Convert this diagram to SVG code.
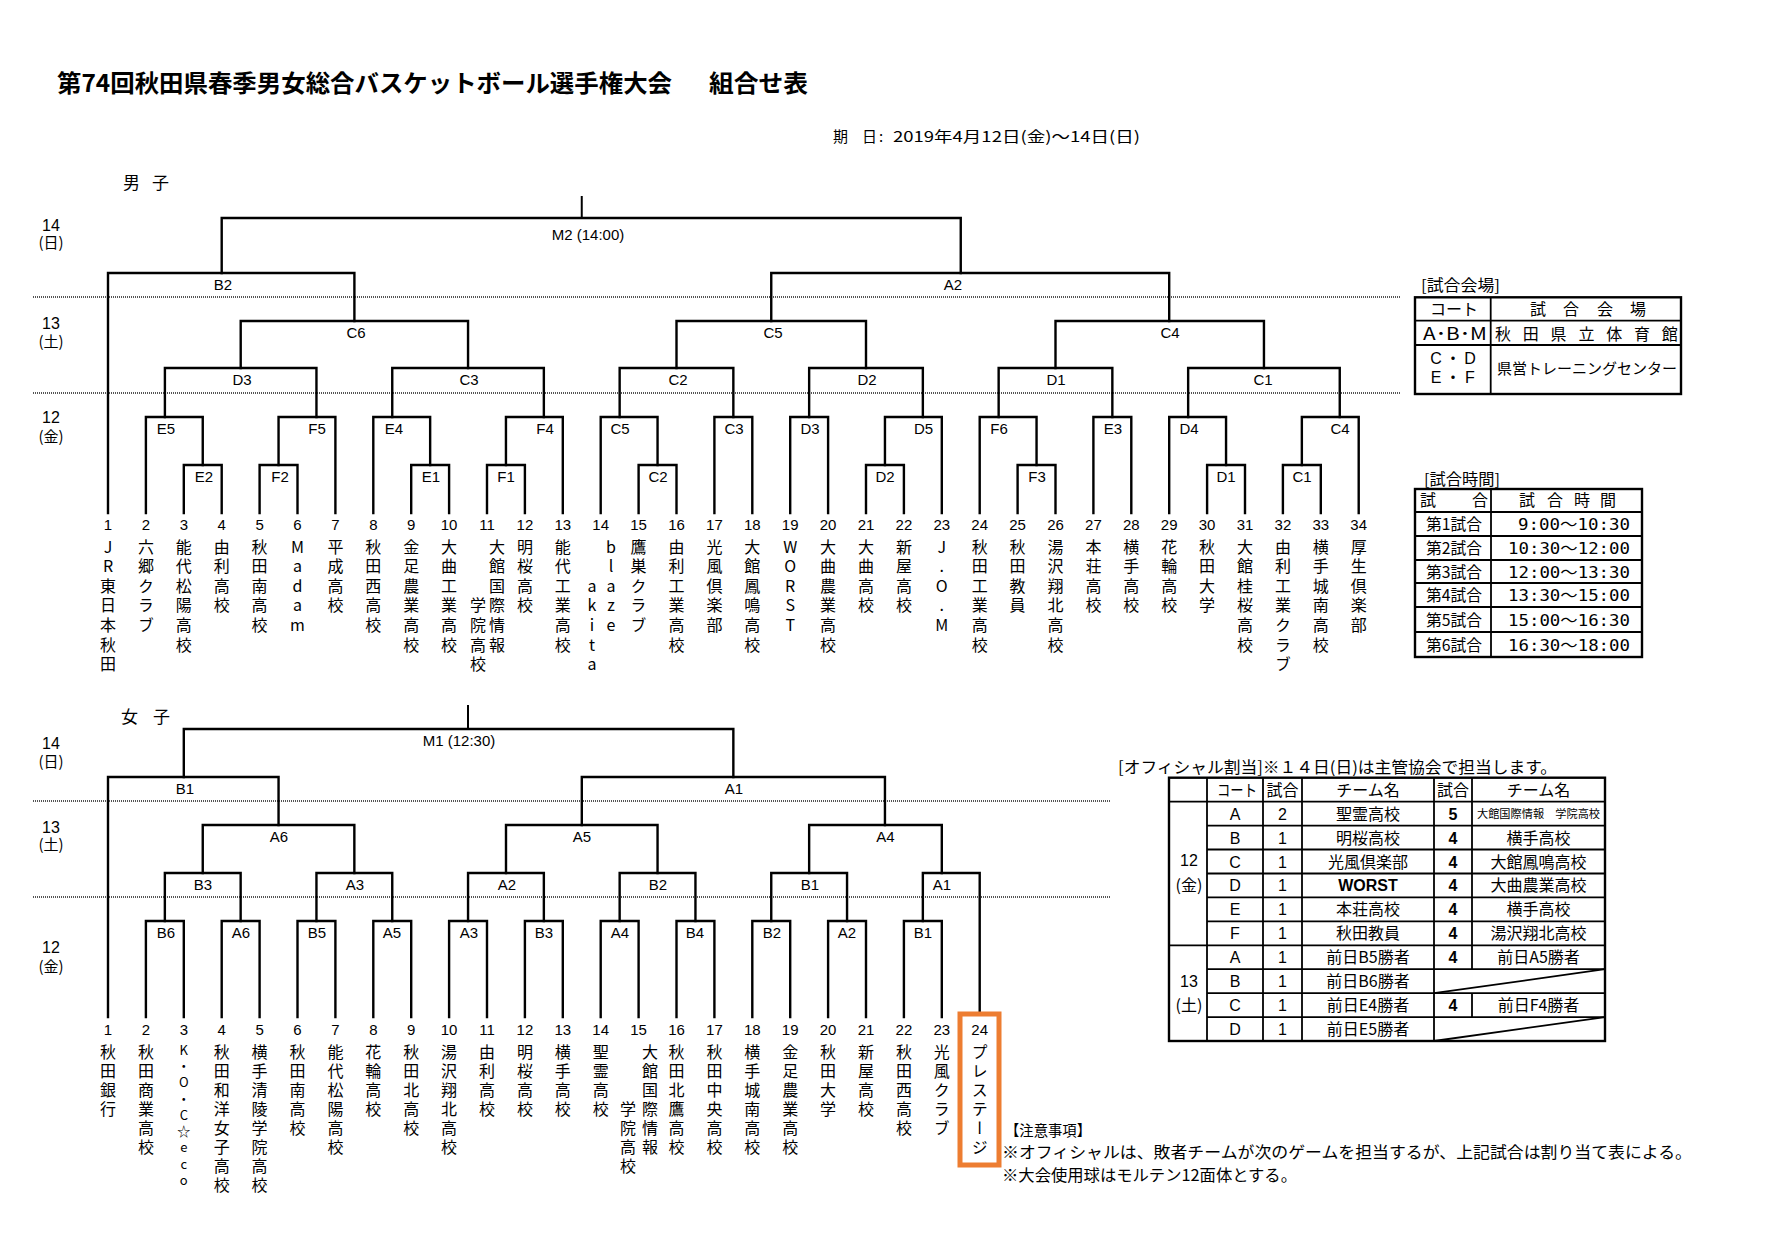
<svg xmlns="http://www.w3.org/2000/svg" width="1772" height="1253" viewBox="0 0 1772 1253">
<style>
text{font-family:"Noto Sans CJK JP","Noto Sans CJK SC",sans-serif;fill:#000}
.br{fill:none;stroke:#000;stroke-width:2.4;stroke-linecap:square}
.stem{fill:none;stroke:#000;stroke-width:2}
.dot{stroke:#555;stroke-width:2;stroke-dasharray:1 1}
.lab{font-family:"Liberation Sans","Noto Sans CJK JP",sans-serif;font-size:15px;text-anchor:middle}
.num{font-family:"Liberation Sans",sans-serif;font-size:15px;text-anchor:middle}
.vm{font-size:16px;writing-mode:vertical-rl;text-orientation:upright;letter-spacing:3.55px;text-anchor:start}
.vw{font-size:16px;writing-mode:vertical-rl;text-orientation:upright;letter-spacing:3px;text-anchor:start}
.vs{font-size:13px;writing-mode:vertical-rl;text-orientation:upright;letter-spacing:3.25px;text-anchor:start}
.day{font-family:"Liberation Sans",sans-serif;font-size:16px;text-anchor:middle}
.dayj{font-size:15px;text-anchor:middle}
.tb{fill:none;stroke:#000;stroke-width:2.4}
.tl{stroke:#000;stroke-width:1.8}
.tt{font-size:16px;text-anchor:middle}
.ttl{font-family:"Liberation Sans","Noto Sans CJK JP",sans-serif;font-size:16px;text-anchor:middle}
.b{font-weight:bold}
.mono{font-family:"DejaVu Sans Mono","Noto Sans CJK JP",monospace;font-size:16px}
</style>
<rect x="0" y="0" width="1772" height="1253" fill="#fff"/>

<g id="header">
<text x="57" y="92" font-size="24" font-weight="bold" textLength="615" lengthAdjust="spacingAndGlyphs">第74回秋田県春季男女総合バスケットボール選手権大会</text>
<text x="709" y="92" font-size="24" font-weight="bold" textLength="99" lengthAdjust="spacingAndGlyphs">組合せ表</text>
<text font-size="15"><tspan x="833" y="142">期</tspan><tspan x="862" y="142">日</tspan><tspan x="879" y="142">:</tspan></text>
<text x="893" y="142" font-size="15" textLength="247" lengthAdjust="spacingAndGlyphs">2019年4月12日(金)～14日(日)</text>
<text font-size="17"><tspan x="123" y="189">男</tspan><tspan x="152" y="189">子</tspan></text>
<text font-size="17"><tspan x="121" y="723">女</tspan><tspan x="153" y="723">子</tspan></text>
</g>

<g id="day-labels">
<text class="day" x="51" y="231">14</text><text class="dayj" x="51" y="248">(日)</text>
<text class="day" x="51" y="329">13</text><text class="dayj" x="51" y="347">(土)</text>
<text class="day" x="51" y="423">12</text><text class="dayj" x="51" y="442">(金)</text>
<text class="day" x="51" y="749">14</text><text class="dayj" x="51" y="767">(日)</text>
<text class="day" x="51" y="833">13</text><text class="dayj" x="51" y="850">(土)</text>
<text class="day" x="51" y="953">12</text><text class="dayj" x="51" y="972">(金)</text>
</g>

<g id="day-separators">
<line class="dot" x1="33" y1="297" x2="1400" y2="297"/>
<line class="dot" x1="33" y1="393" x2="1400" y2="393"/>
<line class="dot" x1="33" y1="801" x2="1110" y2="801"/>
<line class="dot" x1="33" y1="897" x2="1110" y2="897"/>
</g>

<g id="connectors-men">
<path class="stem" d="M581.75 196V218"/>
<path class="br" d="M221.7 273V218H960.75V273"/>
<path class="br" d="M108 513V273H354.4V321"/>
<path class="br" d="M771.25 321V273H1169.2V321"/>
<path class="br" d="M240.7 368V321H468.05V368"/>
<path class="br" d="M676.5 368V321H866V368"/>
<path class="br" d="M1055.5 368V321H1263.95V368"/>
<path class="br" d="M164.9 417V368H316.45V417"/>
<path class="br" d="M392.25 417V368H543.85V417"/>
<path class="br" d="M619.65 417V368H733.35V417"/>
<path class="br" d="M809.15 417V368H922.85V417"/>
<path class="br" d="M998.65 417V368H1112.35V417"/>
<path class="br" d="M1188.15 417V368H1339.75V417"/>
<path class="br" d="M145.9 513V417H202.75V465"/>
<path class="br" d="M278.55 465V417H335.4V513"/>
<path class="br" d="M373.3 513V417H430.15V465"/>
<path class="br" d="M505.95 465V417H562.8V513"/>
<path class="br" d="M600.7 513V417H657.55V465"/>
<path class="br" d="M714.4 513V417H752.3V513"/>
<path class="br" d="M790.2 513V417H828.1V513"/>
<path class="br" d="M884.95 465V417H941.8V513"/>
<path class="br" d="M979.7 513V417H1036.55V465"/>
<path class="br" d="M1093.4 513V417H1131.3V513"/>
<path class="br" d="M1169.2 513V417H1226.05V465"/>
<path class="br" d="M1301.85 465V417H1358.7V513"/>
<path class="br" d="M183.8 513V465H221.7V513"/>
<path class="br" d="M259.6 513V465H297.5V513"/>
<path class="br" d="M411.2 513V465H449.1V513"/>
<path class="br" d="M487 513V465H524.9V513"/>
<path class="br" d="M638.6 513V465H676.5V513"/>
<path class="br" d="M866 513V465H903.9V513"/>
<path class="br" d="M1017.6 513V465H1055.5V513"/>
<path class="br" d="M1207.1 513V465H1245V513"/>
<path class="br" d="M1282.9 513V465H1320.8V513"/>
</g>

<g id="connectors-women">
<path class="stem" d="M468 705V729"/>
<path class="br" d="M183.8 777V729H733.35V777"/>
<path class="br" d="M108 1017V777H278.55V825"/>
<path class="br" d="M581.8 825V777H884.95V825"/>
<path class="br" d="M202.75 873V825H354.35V873"/>
<path class="br" d="M506 873V825H657.55V873"/>
<path class="br" d="M809.15 873V825H941.8V873"/>
<path class="br" d="M164.85 921V873H240.65V921"/>
<path class="br" d="M316.45 921V873H392.25V921"/>
<path class="br" d="M468.05 921V873H543.85V921"/>
<path class="br" d="M619.65 921V873H695.45V921"/>
<path class="br" d="M771.25 921V873H847.05V921"/>
<path class="br" d="M922.85 921V873H979.7V1014"/>
<path class="br" d="M145.9 1017V921H183.8V1017"/>
<path class="br" d="M221.7 1017V921H259.6V1017"/>
<path class="br" d="M297.5 1017V921H335.4V1017"/>
<path class="br" d="M373.3 1017V921H411.2V1017"/>
<path class="br" d="M449.1 1017V921H487V1017"/>
<path class="br" d="M524.9 1017V921H562.8V1017"/>
<path class="br" d="M600.7 1017V921H638.6V1017"/>
<path class="br" d="M676.5 1017V921H714.4V1017"/>
<path class="br" d="M752.3 1017V921H790.2V1017"/>
<path class="br" d="M828.1 1017V921H866V1017"/>
<path class="br" d="M903.9 1017V921H941.8V1017"/>
</g>

<g id="match-labels-men">
<text class="lab" x="588" y="240">M2 (14:00)</text>
<text class="lab" x="223" y="290">B2</text><text class="lab" x="953" y="290">A2</text>
<text class="lab" x="356" y="338">C6</text><text class="lab" x="773" y="338">C5</text><text class="lab" x="1170" y="338">C4</text>
<text class="lab" x="242" y="385">D3</text><text class="lab" x="469" y="385">C3</text><text class="lab" x="678" y="385">C2</text><text class="lab" x="867" y="385">D2</text><text class="lab" x="1056" y="385">D1</text><text class="lab" x="1263" y="385">C1</text>
<text class="lab" x="166" y="434">E5</text><text class="lab" x="317" y="434">F5</text><text class="lab" x="394" y="434">E4</text><text class="lab" x="545" y="434">F4</text><text class="lab" x="620" y="434">C5</text><text class="lab" x="734" y="434">C3</text><text class="lab" x="810" y="434">D3</text><text class="lab" x="923.5" y="434">D5</text><text class="lab" x="999" y="434">F6</text><text class="lab" x="1113" y="434">E3</text><text class="lab" x="1189" y="434">D4</text><text class="lab" x="1340" y="434">C4</text>
<text class="lab" x="204" y="482">E2</text><text class="lab" x="280" y="482">F2</text><text class="lab" x="431" y="482">E1</text><text class="lab" x="506" y="482">F1</text><text class="lab" x="658" y="482">C2</text><text class="lab" x="885" y="482">D2</text><text class="lab" x="1037" y="482">F3</text><text class="lab" x="1226" y="482">D1</text><text class="lab" x="1302" y="482">C1</text>
</g>

<g id="match-labels-women">
<text class="lab" x="459" y="746">M1 (12:30)</text>
<text class="lab" x="185" y="794">B1</text><text class="lab" x="734" y="794">A1</text>
<text class="lab" x="279" y="842">A6</text><text class="lab" x="582" y="842">A5</text><text class="lab" x="885.5" y="842">A4</text>
<text class="lab" x="203" y="890">B3</text><text class="lab" x="355" y="890">A3</text><text class="lab" x="507" y="890">A2</text><text class="lab" x="658" y="890">B2</text><text class="lab" x="810" y="890">B1</text><text class="lab" x="942" y="890">A1</text>
<text class="lab" x="166" y="938">B6</text><text class="lab" x="241" y="938">A6</text><text class="lab" x="317" y="938">B5</text><text class="lab" x="392" y="938">A5</text><text class="lab" x="469" y="938">A3</text><text class="lab" x="544" y="938">B3</text><text class="lab" x="620" y="938">A4</text><text class="lab" x="695" y="938">B4</text><text class="lab" x="772" y="938">B2</text><text class="lab" x="847" y="938">A2</text><text class="lab" x="923" y="938">B1</text>
</g>

<g id="men-teams">
<g id="m01"><text class="num" x="108" y="529.5">1</text><text class="vm" x="108" y="538.7">JR東日本秋田</text></g>
<g id="m02"><text class="num" x="145.9" y="529.5">2</text><text class="vm" x="145.9" y="538.7">六郷クラブ</text></g>
<g id="m03"><text class="num" x="183.8" y="529.5">3</text><text class="vm" x="183.8" y="538.7">能代松陽高校</text></g>
<g id="m04"><text class="num" x="221.7" y="529.5">4</text><text class="vm" x="221.7" y="538.7">由利高校</text></g>
<g id="m05"><text class="num" x="259.6" y="529.5">5</text><text class="vm" x="259.6" y="538.7">秋田南高校</text></g>
<g id="m06"><text class="num" x="297.5" y="529.5">6</text><text class="vm" x="297.5" y="538.7">Madam</text></g>
<g id="m07"><text class="num" x="335.4" y="529.5">7</text><text class="vm" x="335.4" y="538.7">平成高校</text></g>
<g id="m08"><text class="num" x="373.3" y="529.5">8</text><text class="vm" x="373.3" y="538.7">秋田西高校</text></g>
<g id="m09"><text class="num" x="411.2" y="529.5">9</text><text class="vm" x="411.2" y="538.7">金足農業高校</text></g>
<g id="m10"><text class="num" x="449.1" y="529.5">10</text><text class="vm" x="449.1" y="538.7">大曲工業高校</text></g>
<g id="m11"><text class="num" x="487" y="529.5">11</text><text class="vm" x="497" y="538.7">大館国際情報</text><text class="vm" x="478" y="597.35">学院高校</text></g>
<g id="m12"><text class="num" x="524.9" y="529.5">12</text><text class="vm" x="524.9" y="538.7">明桜高校</text></g>
<g id="m13"><text class="num" x="562.8" y="529.5">13</text><text class="vm" x="562.8" y="538.7">能代工業高校</text></g>
<g id="m14"><text class="num" x="600.7" y="529.5">14</text><text class="vm" x="611" y="538.7">blaze</text><text class="vm" x="592" y="577.8">akita</text></g>
<g id="m15"><text class="num" x="638.6" y="529.5">15</text><text class="vm" x="638.6" y="538.7">鷹巣クラブ</text></g>
<g id="m16"><text class="num" x="676.5" y="529.5">16</text><text class="vm" x="676.5" y="538.7">由利工業高校</text></g>
<g id="m17"><text class="num" x="714.4" y="529.5">17</text><text class="vm" x="714.4" y="538.7">光風倶楽部</text></g>
<g id="m18"><text class="num" x="752.3" y="529.5">18</text><text class="vm" x="752.3" y="538.7">大館鳳鳴高校</text></g>
<g id="m19"><text class="num" x="790.2" y="529.5">19</text><text class="vm" x="790.2" y="538.7">WORST</text></g>
<g id="m20"><text class="num" x="828.1" y="529.5">20</text><text class="vm" x="828.1" y="538.7">大曲農業高校</text></g>
<g id="m21"><text class="num" x="866" y="529.5">21</text><text class="vm" x="866" y="538.7">大曲高校</text></g>
<g id="m22"><text class="num" x="903.9" y="529.5">22</text><text class="vm" x="903.9" y="538.7">新屋高校</text></g>
<g id="m23"><text class="num" x="941.8" y="529.5">23</text><text class="vm" x="941.8" y="538.7">J.O.M</text></g>
<g id="m24"><text class="num" x="979.7" y="529.5">24</text><text class="vm" x="979.7" y="538.7">秋田工業高校</text></g>
<g id="m25"><text class="num" x="1017.6" y="529.5">25</text><text class="vm" x="1017.6" y="538.7">秋田教員</text></g>
<g id="m26"><text class="num" x="1055.5" y="529.5">26</text><text class="vm" x="1055.5" y="538.7">湯沢翔北高校</text></g>
<g id="m27"><text class="num" x="1093.4" y="529.5">27</text><text class="vm" x="1093.4" y="538.7">本荘高校</text></g>
<g id="m28"><text class="num" x="1131.3" y="529.5">28</text><text class="vm" x="1131.3" y="538.7">横手高校</text></g>
<g id="m29"><text class="num" x="1169.2" y="529.5">29</text><text class="vm" x="1169.2" y="538.7">花輪高校</text></g>
<g id="m30"><text class="num" x="1207.1" y="529.5">30</text><text class="vm" x="1207.1" y="538.7">秋田大学</text></g>
<g id="m31"><text class="num" x="1245" y="529.5">31</text><text class="vm" x="1245" y="538.7">大館桂桜高校</text></g>
<g id="m32"><text class="num" x="1282.9" y="529.5">32</text><text class="vm" x="1282.9" y="538.7">由利工業クラブ</text></g>
<g id="m33"><text class="num" x="1320.8" y="529.5">33</text><text class="vm" x="1320.8" y="538.7">横手城南高校</text></g>
<g id="m34"><text class="num" x="1358.7" y="529.5">34</text><text class="vm" x="1358.7" y="538.7">厚生倶楽部</text></g>
</g>

<g id="women-teams">
<g id="w01"><text class="num" x="108" y="1034.5">1</text><text class="vw" x="108" y="1043.7">秋田銀行</text></g>
<g id="w02"><text class="num" x="145.9" y="1034.5">2</text><text class="vw" x="145.9" y="1043.7">秋田商業高校</text></g>
<g id="w03"><text class="num" x="183.8" y="1034.5">3</text><text class="vs" x="183.8" y="1043.5">K・O・C☆eco</text></g>
<g id="w04"><text class="num" x="221.7" y="1034.5">4</text><text class="vw" x="221.7" y="1043.7">秋田和洋女子高校</text></g>
<g id="w05"><text class="num" x="259.6" y="1034.5">5</text><text class="vw" x="259.6" y="1043.7">横手清陵学院高校</text></g>
<g id="w06"><text class="num" x="297.5" y="1034.5">6</text><text class="vw" x="297.5" y="1043.7">秋田南高校</text></g>
<g id="w07"><text class="num" x="335.4" y="1034.5">7</text><text class="vw" x="335.4" y="1043.7">能代松陽高校</text></g>
<g id="w08"><text class="num" x="373.3" y="1034.5">8</text><text class="vw" x="373.3" y="1043.7">花輪高校</text></g>
<g id="w09"><text class="num" x="411.2" y="1034.5">9</text><text class="vw" x="411.2" y="1043.7">秋田北高校</text></g>
<g id="w10"><text class="num" x="449.1" y="1034.5">10</text><text class="vw" x="449.1" y="1043.7">湯沢翔北高校</text></g>
<g id="w11"><text class="num" x="487" y="1034.5">11</text><text class="vw" x="487" y="1043.7">由利高校</text></g>
<g id="w12"><text class="num" x="524.9" y="1034.5">12</text><text class="vw" x="524.9" y="1043.7">明桜高校</text></g>
<g id="w13"><text class="num" x="562.8" y="1034.5">13</text><text class="vw" x="562.8" y="1043.7">横手高校</text></g>
<g id="w14"><text class="num" x="600.7" y="1034.5">14</text><text class="vw" x="600.7" y="1043.7">聖霊高校</text></g>
<g id="w15"><text class="num" x="638.6" y="1034.5">15</text><text class="vw" x="650" y="1043.7">大館国際情報</text><text class="vw" x="628" y="1100.7">学院高校</text></g>
<g id="w16"><text class="num" x="676.5" y="1034.5">16</text><text class="vw" x="676.5" y="1043.7">秋田北鷹高校</text></g>
<g id="w17"><text class="num" x="714.4" y="1034.5">17</text><text class="vw" x="714.4" y="1043.7">秋田中央高校</text></g>
<g id="w18"><text class="num" x="752.3" y="1034.5">18</text><text class="vw" x="752.3" y="1043.7">横手城南高校</text></g>
<g id="w19"><text class="num" x="790.2" y="1034.5">19</text><text class="vw" x="790.2" y="1043.7">金足農業高校</text></g>
<g id="w20"><text class="num" x="828.1" y="1034.5">20</text><text class="vw" x="828.1" y="1043.7">秋田大学</text></g>
<g id="w21"><text class="num" x="866" y="1034.5">21</text><text class="vw" x="866" y="1043.7">新屋高校</text></g>
<g id="w22"><text class="num" x="903.9" y="1034.5">22</text><text class="vw" x="903.9" y="1043.7">秋田西高校</text></g>
<g id="w23"><text class="num" x="941.8" y="1034.5">23</text><text class="vw" x="941.8" y="1043.7">光風クラブ</text></g>
<g id="w24"><rect x="960" y="1014" width="39" height="151" fill="none" stroke="#ED7D31" stroke-width="5"/><text class="num" x="979.7" y="1034.5">24</text><text class="vw" x="979.7" y="1043.7">プレステージ</text></g>
</g>

<g id="venue-table">
<text x="1421" y="290.5" font-size="15.5" textLength="79" lengthAdjust="spacingAndGlyphs">[試合会場]</text>
<rect class="tb" x="1415" y="297.3" width="266" height="96.7"/>
<line class="tl" x1="1490.7" y1="297.3" x2="1490.7" y2="394"/>
<line class="tl" x1="1415" y1="320.7" x2="1681" y2="320.7"/>
<line class="tl" x1="1415" y1="345" x2="1681" y2="345"/>
<text x="1430" y="315" font-size="16" textLength="48" lengthAdjust="spacingAndGlyphs">コート</text>
<text class="tt"><tspan x="1538" y="315">試</tspan><tspan x="1571" y="315">合</tspan><tspan x="1605" y="315">会</tspan><tspan x="1638" y="315">場</tspan></text>
<text x="1423" y="339.5" font-size="17" font-family="Liberation Sans, Noto Sans CJK JP, sans-serif" textLength="64" lengthAdjust="spacingAndGlyphs">A･B･M</text>
<text class="tt" font-size="17"><tspan x="1503" y="339.5">秋</tspan><tspan x="1530.8" y="339.5">田</tspan><tspan x="1558.6" y="339.5">県</tspan><tspan x="1586.4" y="339.5">立</tspan><tspan x="1614.2" y="339.5">体</tspan><tspan x="1642" y="339.5">育</tspan><tspan x="1669.8" y="339.5">館</tspan></text>
<text class="ttl" font-size="17"><tspan x="1436" y="364">C</tspan><tspan x="1453" y="364">・</tspan><tspan x="1470" y="364">D</tspan></text>
<text class="ttl" font-size="17"><tspan x="1436" y="383">E</tspan><tspan x="1453" y="383">・</tspan><tspan x="1470" y="383">F</tspan></text>
<text x="1497" y="374" font-size="15" textLength="180" lengthAdjust="spacingAndGlyphs">県営トレーニングセンター</text>
</g>

<g id="time-table">
<text x="1424" y="484.5" font-size="15.5" textLength="76" lengthAdjust="spacingAndGlyphs">[試合時間]</text>
<rect class="tb" x="1415" y="489" width="227" height="168"/>
<line class="tl" x1="1491" y1="489" x2="1491" y2="657"/>
<line class="tl" x1="1415" y1="512" x2="1642" y2="512"/>
<line class="tl" x1="1415" y1="536" x2="1642" y2="536"/>
<line class="tl" x1="1415" y1="560" x2="1642" y2="560"/>
<line class="tl" x1="1415" y1="583" x2="1642" y2="583"/>
<line class="tl" x1="1415" y1="607" x2="1642" y2="607"/>
<line class="tl" x1="1415" y1="632" x2="1642" y2="632"/>
<text class="tt"><tspan x="1428" y="506">試</tspan><tspan x="1480" y="506">合</tspan></text>
<text class="tt"><tspan x="1527" y="506">試</tspan><tspan x="1555" y="506">合</tspan><tspan x="1582" y="506">時</tspan><tspan x="1608" y="506">間</tspan></text>
<text x="1426" y="530" font-size="16" textLength="56" lengthAdjust="spacingAndGlyphs">第1試合</text>
<text x="1426" y="554" font-size="16" textLength="56" lengthAdjust="spacingAndGlyphs">第2試合</text>
<text x="1426" y="577.5" font-size="16" textLength="56" lengthAdjust="spacingAndGlyphs">第3試合</text>
<text x="1426" y="601" font-size="16" textLength="56" lengthAdjust="spacingAndGlyphs">第4試合</text>
<text x="1426" y="625.5" font-size="16" textLength="56" lengthAdjust="spacingAndGlyphs">第5試合</text>
<text x="1426" y="650.5" font-size="16" textLength="56" lengthAdjust="spacingAndGlyphs">第6試合</text>
<text class="mono" x="1518" y="530" textLength="112" lengthAdjust="spacingAndGlyphs">9:00～10:30</text>
<text class="mono" x="1508" y="554" textLength="122" lengthAdjust="spacingAndGlyphs">10:30～12:00</text>
<text class="mono" x="1508" y="577.5" textLength="122" lengthAdjust="spacingAndGlyphs">12:00～13:30</text>
<text class="mono" x="1508" y="601" textLength="122" lengthAdjust="spacingAndGlyphs">13:30～15:00</text>
<text class="mono" x="1508" y="625.5" textLength="122" lengthAdjust="spacingAndGlyphs">15:00～16:30</text>
<text class="mono" x="1508" y="650.5" textLength="122" lengthAdjust="spacingAndGlyphs">16:30～18:00</text>
</g>

<g id="official-table">
<text x="1118" y="773" font-size="16" textLength="439" lengthAdjust="spacingAndGlyphs">[オフィシャル割当]※１４日(日)は主管協会で担当します。</text>
<rect class="tb" x="1169" y="777.7" width="436" height="263.3"/>
<line class="tl" x1="1207" y1="777.7" x2="1207" y2="1041"/>
<line class="tl" x1="1263" y1="777.7" x2="1263" y2="1041"/>
<line class="tl" x1="1302" y1="777.7" x2="1302" y2="1041"/>
<line class="tl" x1="1434" y1="777.7" x2="1434" y2="1041"/>
<line class="tl" x1="1472" y1="777.7" x2="1472" y2="969.2"/>
<line class="tl" x1="1472" y1="993.2" x2="1472" y2="1017.1"/>
<line class="tl" x1="1169" y1="801.6" x2="1605" y2="801.6"/>
<line class="tl" x1="1207" y1="825.6" x2="1605" y2="825.6"/>
<line class="tl" x1="1207" y1="849.5" x2="1605" y2="849.5"/>
<line class="tl" x1="1207" y1="873.5" x2="1605" y2="873.5"/>
<line class="tl" x1="1207" y1="897.4" x2="1605" y2="897.4"/>
<line class="tl" x1="1207" y1="921.3" x2="1605" y2="921.3"/>
<line class="tl" x1="1169" y1="945.3" x2="1605" y2="945.3"/>
<line class="tl" x1="1207" y1="969.2" x2="1605" y2="969.2"/>
<line class="tl" x1="1207" y1="993.2" x2="1605" y2="993.2"/>
<line class="tl" x1="1207" y1="1017.1" x2="1605" y2="1017.1"/>
<line class="tl" x1="1434" y1="993.2" x2="1605" y2="969.2"/>
<line class="tl" x1="1434" y1="1041" x2="1605" y2="1017.1"/>
<text x="1217" y="795.7" font-size="16" textLength="40" lengthAdjust="spacingAndGlyphs">コート</text>
<text class="tt" x="1282.5" y="795.7">試合</text>
<text class="tt" x="1368" y="795.7">チーム名</text>
<text class="tt" x="1453" y="795.7">試合</text>
<text class="tt" x="1538.5" y="795.7">チーム名</text>
<text class="ttl" x="1189" y="866">12</text>
<text class="tt" x="1189" y="891">(金)</text>
<text class="ttl" x="1189" y="987">13</text>
<text class="tt" x="1189" y="1011">(土)</text>
<text class="ttl" x="1235" y="819.6">A</text>
<text class="ttl" x="1235" y="843.5">B</text>
<text class="ttl" x="1235" y="867.5">C</text>
<text class="ttl" x="1235" y="891.4">D</text>
<text class="ttl" x="1235" y="915.4">E</text>
<text class="ttl" x="1235" y="939.3">F</text>
<text class="ttl" x="1235" y="963.2">A</text>
<text class="ttl" x="1235" y="987.2">B</text>
<text class="ttl" x="1235" y="1011.1">C</text>
<text class="ttl" x="1235" y="1035.1">D</text>
<text class="ttl" x="1282.5" y="819.6">2</text>
<text class="ttl" x="1282.5" y="843.5">1</text>
<text class="ttl" x="1282.5" y="867.5">1</text>
<text class="ttl" x="1282.5" y="891.4">1</text>
<text class="ttl" x="1282.5" y="915.4">1</text>
<text class="ttl" x="1282.5" y="939.3">1</text>
<text class="ttl" x="1282.5" y="963.2">1</text>
<text class="ttl" x="1282.5" y="987.2">1</text>
<text class="ttl" x="1282.5" y="1011.1">1</text>
<text class="ttl" x="1282.5" y="1035.1">1</text>
<text class="tt" x="1368" y="819.6">聖霊高校</text>
<text class="tt" x="1368" y="843.5">明桜高校</text>
<text class="tt" x="1368" y="867.5">光風倶楽部</text>
<text class="ttl b" x="1368" y="891.4">WORST</text>
<text class="tt" x="1368" y="915.4">本荘高校</text>
<text class="tt" x="1368" y="939.3">秋田教員</text>
<text class="tt" x="1368" y="963.2">前日B5勝者</text>
<text class="tt" x="1368" y="987.2">前日B6勝者</text>
<text class="tt" x="1368" y="1011.1">前日E4勝者</text>
<text class="tt" x="1368" y="1035.1">前日E5勝者</text>
<text class="ttl b" x="1453" y="819.6">5</text>
<text class="ttl b" x="1453" y="843.5">4</text>
<text class="ttl b" x="1453" y="867.5">4</text>
<text class="ttl b" x="1453" y="891.4">4</text>
<text class="ttl b" x="1453" y="915.4">4</text>
<text class="ttl b" x="1453" y="939.3">4</text>
<text class="ttl b" x="1453" y="963.2">4</text>
<text class="ttl b" x="1453" y="1011.1">4</text>
<text x="1477" y="818" font-size="11" textLength="123" lengthAdjust="spacingAndGlyphs">大館国際情報　学院高校</text>
<text class="tt" x="1538.5" y="843.5">横手高校</text>
<text class="tt" x="1538.5" y="867.5">大館鳳鳴高校</text>
<text class="tt" x="1538.5" y="891.4">大曲農業高校</text>
<text class="tt" x="1538.5" y="915.4">横手高校</text>
<text class="tt" x="1538.5" y="939.3">湯沢翔北高校</text>
<text class="tt" x="1538.5" y="963.2">前日A5勝者</text>
<text class="tt" x="1538.5" y="1011.1">前日F4勝者</text>
</g>

<g id="notes">
<text x="1005" y="1136" font-size="15" textLength="86" lengthAdjust="spacingAndGlyphs">【注意事項】</text>
<text x="1002" y="1158" font-size="16" textLength="690" lengthAdjust="spacingAndGlyphs">※オフィシャルは、敗者チームが次のゲームを担当するが、上記試合は割り当て表による。</text>
<text x="1002" y="1181" font-size="16" textLength="295" lengthAdjust="spacingAndGlyphs">※大会使用球はモルテン12面体とする。</text>
</g>
</svg>
